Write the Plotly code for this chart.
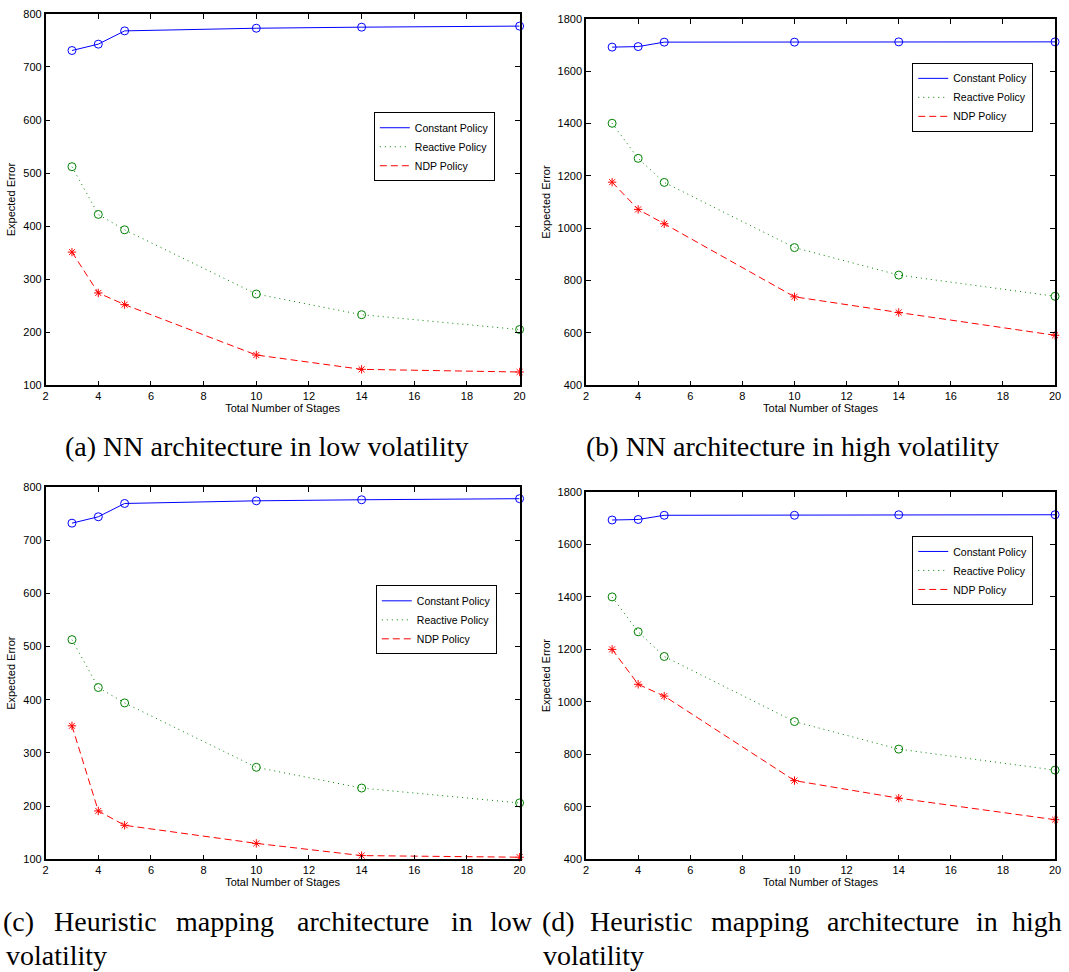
import plotly.graph_objects as go

# ---------------- data ----------------
stages = [3, 4, 5, 10, 14, 20]

a_constant = [731, 743, 768, 773, 775, 777]
a_reactive = [512, 422, 393, 272, 233, 205]
a_ndp = [351, 274, 252, 157, 130, 125]

b_constant = [1692, 1694, 1711, 1711, 1712, 1712]
b_reactive = [1401, 1267, 1175, 926, 821, 740]
b_ndp = [1176, 1072, 1017, 738, 678, 591]

c_constant = [732, 744, 769, 774, 776, 778]
c_reactive = [513, 423, 394, 273, 234, 206]
c_ndp = [351, 191, 164, 130, 107, 104]

d_constant = [1693, 1695, 1711, 1711, 1713, 1713]
d_reactive = [1400, 1267, 1173, 925, 820, 740]
d_ndp = [1200, 1067, 1022, 700, 633, 551]

series_names = ["Constant Policy", "Reactive Policy", "NDP Policy"]
x_ticks = [2, 4, 6, 8, 10, 12, 14, 16, 18, 20]
low_ticks = [100, 200, 300, 400, 500, 600, 700, 800]
high_ticks = [400, 600, 800, 1000, 1200, 1400, 1600, 1800]

x_title = "Total Number of Stages"
y_title = "Expected Error"

captions_top = ["(a) NN architecture in low volatility",
                "(b) NN architecture in high volatility"]
caption_c_words = ["(c)", "Heuristic", "mapping", "architecture", "in", "low"]
caption_d_words = ["(d)", "Heuristic", "mapping", "architecture", "in", "high"]
caption_second_line = "volatility"

# ---------------- styling ----------------
W, H = 1069, 972
BLUE, GREEN, RED = "#0000FF", "#008000", "#FF0000"
SANS = "Liberation Sans, Arial, Helvetica, sans-serif"
SERIF = "Liberation Serif, Times New Roman, serif"

line_styles = [
    dict(color=BLUE, width=1, dash="solid"),
    dict(color=GREEN, width=1, dash="1px,4px"),
    dict(color=RED, width=1, dash="7px,4px"),
]
marker_styles = [
    dict(symbol="circle-open", size=8, color=BLUE, line=dict(width=1, color=BLUE)),
    dict(symbol="circle-open", size=8, color=GREEN, line=dict(width=1, color=GREEN)),
    dict(symbol="asterisk-open", size=7, color=RED, line=dict(width=1, color=RED)),
]

def px_x(v):
    return v / W

def px_y(v):
    return 1 - v / H

# panel geometry in pixels: (left, right, top, bottom)
panels = [
    dict(data=[a_constant, a_reactive, a_ndp], yr=[100, 800], yt=low_ticks,
         box=(43, 521, 8, 384), legend=(496, 142.5)),
    dict(data=[b_constant, b_reactive, b_ndp], yr=[400, 1800], yt=high_ticks,
         box=(588, 1061, 13, 384), legend=(1039, 92.5)),
    dict(data=[c_constant, c_reactive, c_ndp], yr=[100, 800], yt=low_ticks,
         box=(43, 521, 487, 864), legend=(498, 621.5)),
    dict(data=[d_constant, d_reactive, d_ndp], yr=[400, 1800], yt=high_ticks,
         box=(588, 1061, 492, 864), legend=(1039, 571.5)),
]

fig = go.Figure()
layout = dict(
    width=W, height=H,
    margin=dict(l=0, r=0, t=0, b=0),
    paper_bgcolor="white", plot_bgcolor="white",
    showlegend=True,
    font=dict(family=SANS, size=11, color="black"),
)

for i, p in enumerate(panels):
    n = "" if i == 0 else str(i + 1)
    xa, ya = "x" + n, "y" + n
    lg = "legend" + n
    for k in range(3):
        fig.add_trace(go.Scatter(
            x=stages, y=p["data"][k], mode="lines", name=series_names[k],
            line=line_styles[k], xaxis=xa, yaxis=ya, legend=lg,
            showlegend=True, cliponaxis=False, hoverinfo="skip"))
    for k in range(3):
        fig.add_trace(go.Scatter(
            x=stages, y=p["data"][k], mode="markers", name=series_names[k],
            marker=marker_styles[k], xaxis=xa, yaxis=ya, legend=lg,
            showlegend=False, cliponaxis=False))
    l, r, t, b = p["box"]
    common = dict(ticks="inside", ticklen=5, tickwidth=1, tickcolor="black",
                  showline=True, linecolor="black", linewidth=1.5,
                  mirror="ticks", showgrid=False, zeroline=False,
                  tickfont=dict(family=SANS, size=11, color="black"))
    layout["xaxis" + n] = dict(
        domain=[px_x(l), px_x(r)], range=[2, 20], tickvals=x_ticks,
        anchor=ya, title=dict(text=x_title, standoff=2,
                              font=dict(family=SANS, size=11, color="black")),
        **common)
    layout["yaxis" + n] = dict(
        domain=[px_y(b), px_y(t)], range=p["yr"], tickvals=p["yt"],
        anchor=xa, title=dict(text=y_title, standoff=5,
                              font=dict(family=SANS, size=11, color="black")),
        **common)
    lx, ly = p["legend"]
    layout[lg] = dict(
        x=px_x(lx), y=px_y(ly), xanchor="right", yanchor="middle",
        xref="paper", yref="paper",
        bgcolor="white", bordercolor="black", borderwidth=1,
        font=dict(family=SANS, size=10.5, color="black"),
        tracegroupgap=0, itemwidth=30)

fig.update_layout(**layout)

annotations = []
cap_font = dict(family=SERIF, size=28, color="black")
for txt, cx in zip(captions_top, [266, 796]):
    annotations.append(dict(text=txt, x=px_x(cx), y=px_y(446), xref="paper",
                            yref="paper", xanchor="center", yanchor="middle",
                            showarrow=False, font=cap_font))
c_centers = [16, 103, 224, 363, 463, 513]
d_centers = [560, 644, 763, 898, 992, 1043]
for words, centers in [(caption_c_words, c_centers), (caption_d_words, d_centers)]:
    for w, cx in zip(words, centers):
        annotations.append(dict(text=w, x=px_x(cx), y=px_y(927), xref="paper",
                                yref="paper", xanchor="center", yanchor="middle",
                                showarrow=False, font=cap_font))
for lx in [1, 543]:
    annotations.append(dict(text=caption_second_line, x=px_x(lx), y=px_y(961),
                            xref="paper", yref="paper", xanchor="left",
                            yanchor="middle", showarrow=False, font=cap_font))
fig.update_layout(annotations=annotations)

fig.write_html(
    "out.html",
    config={"displayModeBar": False},
    post_script="document.body.style.margin='0px';"
                "document.body.style.overflow='hidden';",
)
